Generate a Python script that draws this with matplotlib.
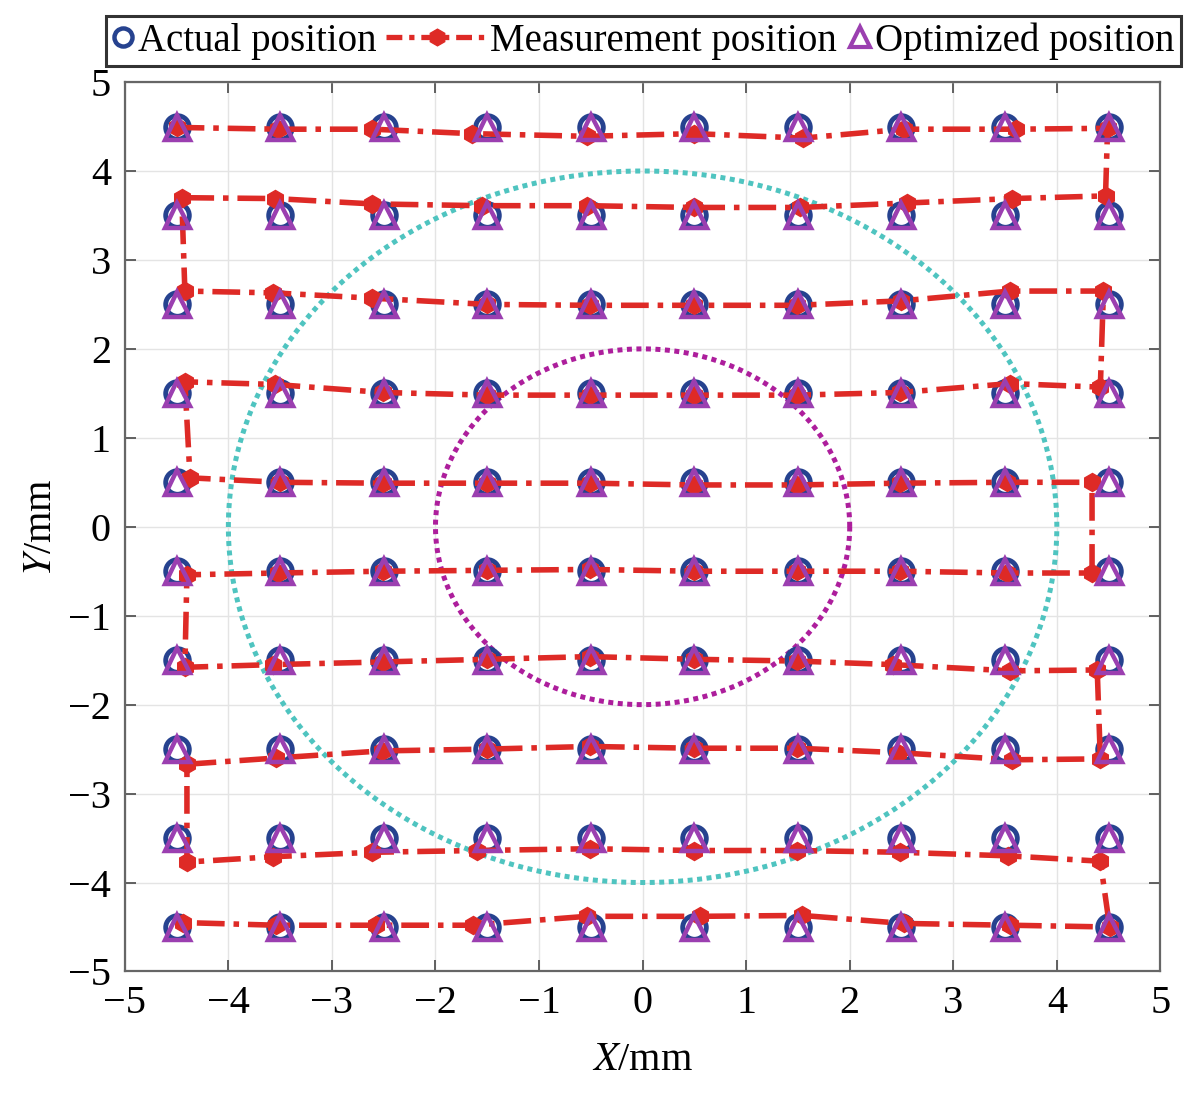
import matplotlib
matplotlib.use("Agg")
import matplotlib.pyplot as plt
import numpy as np
from matplotlib.lines import Line2D
from matplotlib.legend_handler import HandlerLine2D

plt.rcParams['font.family'] = ['Liberation Serif', 'DejaVu Serif']
plt.rcParams['mathtext.fontset'] = 'stix'

# grid of actual / optimized positions (mm)
grid_x = [-4.5, -3.5, -2.5, -1.5, -0.5, 0.5, 1.5, 2.5, 3.5, 4.5]
grid_y = [4.5, 3.5, 2.5, 1.5, 0.5, -0.5, -1.5, -2.5, -3.5, -4.5]

# measured path (serpentine scan, row by row)
meas_x = [
    -4.50, -3.52, -2.61, -1.65, -0.54, 0.50, 1.55, 2.52, 3.61, 4.49,
    4.47, 3.57, 2.55, 1.52, 0.50, -0.54, -1.55, -2.61, -3.55, -4.45,
    -4.42, -3.57, -2.61, -1.50, -0.51, 0.50, 1.49, 2.50, 3.55, 4.45,
    4.42, 3.55, 2.49, 1.49, 0.50, -0.51, -1.50, -2.51, -3.55, -4.42,
    -4.37, -3.50, -2.51, -1.50, -0.51, 0.50, 1.49, 2.49, 3.52, 4.34,
    4.34, 3.52, 2.49, 1.49, 0.50, -0.51, -1.50, -2.51, -3.52, -4.40,
    -4.42, -3.57, -2.51, -1.50, -0.51, 0.50, 1.49, 2.42, 3.55, 4.39,
    4.42, 3.57, 2.47, 1.49, 0.50, -0.51, -1.50, -2.52, -3.54, -4.40,
    -4.40, -3.57, -2.61, -1.60, -0.51, 0.50, 1.49, 2.49, 3.53, 4.42,
    4.51, 3.55, 2.52, 1.54, 0.55, -0.54, -1.64, -2.57, -3.54, -4.44,
]
meas_y = [
    4.49, 4.47, 4.47, 4.42, 4.39, 4.42, 4.37, 4.47, 4.47, 4.48,
    3.72, 3.69, 3.64, 3.59, 3.59, 3.61, 3.61, 3.63, 3.69, 3.70,
    2.65, 2.63, 2.57, 2.50, 2.49, 2.49, 2.49, 2.54, 2.65, 2.65,
    1.57, 1.61, 1.51, 1.48, 1.48, 1.48, 1.48, 1.51, 1.60, 1.63,
    0.55, 0.50, 0.49, 0.49, 0.49, 0.47, 0.47, 0.49, 0.50, 0.50,
    -0.52, -0.52, -0.50, -0.50, -0.50, -0.48, -0.49, -0.50, -0.52, -0.54,
    -1.58, -1.55, -1.52, -1.49, -1.46, -1.49, -1.51, -1.55, -1.62, -1.61,
    -2.61, -2.62, -2.54, -2.49, -2.49, -2.47, -2.50, -2.52, -2.60, -2.67,
    -3.77, -3.71, -3.66, -3.64, -3.62, -3.64, -3.64, -3.66, -3.70, -3.76,
    -4.50, -4.48, -4.46, -4.37, -4.38, -4.38, -4.48, -4.48, -4.48, -4.45,
]

# reference circles (radius, mm)
circle_r = [4, 2]
circle_c = ['#4fc4c0', '#ad1e9c']

act_x = [x for y in grid_y for x in grid_x]
act_y = [y for y in grid_y for x in grid_x]

RED = '#de2a26'
NAVY = '#26428f'
PURPLE = '#9b3fb0'
DASHDOT = (0, (5, 1.6, 1, 1.6))

fig = plt.figure(figsize=(12, 10.94), dpi=100)
ax = fig.add_axes([0.104, 0.112, 0.863, 0.813])

t = np.linspace(0, 2 * np.pi, 600)
for r, c in zip(circle_r, circle_c):
    ax.plot(r * np.cos(t), r * np.sin(t), linestyle=(0, (1, 0.9)), color=c,
            linewidth=3.6, zorder=2)

ax.plot(act_x, act_y, linestyle='none', marker='o', markersize=17, markerfacecolor='none',
        markeredgecolor=NAVY, markeredgewidth=3.5, zorder=3)
ax.plot(meas_x, meas_y, linestyle=DASHDOT, color=RED, linewidth=4, marker='h',
        markersize=13, markerfacecolor=RED, markeredgecolor=RED, zorder=4)
ax.plot(act_x, act_y, linestyle='none', marker='^', markersize=18, markerfacecolor='none',
        markeredgecolor=PURPLE, markeredgewidth=3.2, zorder=5)

ax.set_xlim(-5, 5)
ax.set_ylim(-5, 5)
ax.set_xticks(range(-5, 6))
ax.set_yticks(range(-5, 6))
ax.grid(True, color='#e4e4e4', linewidth=1)
ax.set_axisbelow(True)
ax.tick_params(direction='in', top=True, right=True, length=8, width=1.3,
               color='#555555', labelsize=29, pad=10)
for s in ax.spines.values():
    s.set_color('#666666')
    s.set_linewidth(1.6)

ax.set_xlabel('$X$/mm', fontsize=29, labelpad=14)
ax.set_ylabel('$Y$/mm', fontsize=29, labelpad=6)


class SizedHandler(HandlerLine2D):
    def __init__(self, length, **kw):
        super().__init__(**kw)
        self.length = length

    def legend_artist(self, legend, orig_handle, fontsize, handlebox):
        handlebox.width = self.length * fontsize
        return super().legend_artist(legend, orig_handle, fontsize, handlebox)


h_act = Line2D([], [], linestyle='none', marker='o', markersize=13, markerfacecolor='none',
               markeredgecolor=NAVY, markeredgewidth=3.2)
h_meas = Line2D([], [], linestyle=(0, (3, 1.3, 1, 1.3)), color=RED, linewidth=3.8, marker='h',
                markersize=12, markerfacecolor=RED, markeredgecolor=RED)
h_opt = Line2D([], [], linestyle='none', marker='^', markersize=14, markerfacecolor='none',
               markeredgecolor=PURPLE, markeredgewidth=3)

leg = fig.legend([h_act, h_meas, h_opt],
                 ['Actual position', 'Measurement position', 'Optimized position'],
                 loc='upper center', bbox_to_anchor=(0.536, 0.985), ncol=3,
                 fontsize=28, frameon=True, fancybox=False, edgecolor='black',
                 handletextpad=0.08, columnspacing=0.25, borderpad=0.15,
                 borderaxespad=0, numpoints=1,
                 handler_map={h_act: SizedHandler(0.6), h_meas: SizedHandler(2.6),
                              h_opt: SizedHandler(0.65)})
leg.get_frame().set_linewidth(2.2)

fig.savefig('out.png', dpi=100)
